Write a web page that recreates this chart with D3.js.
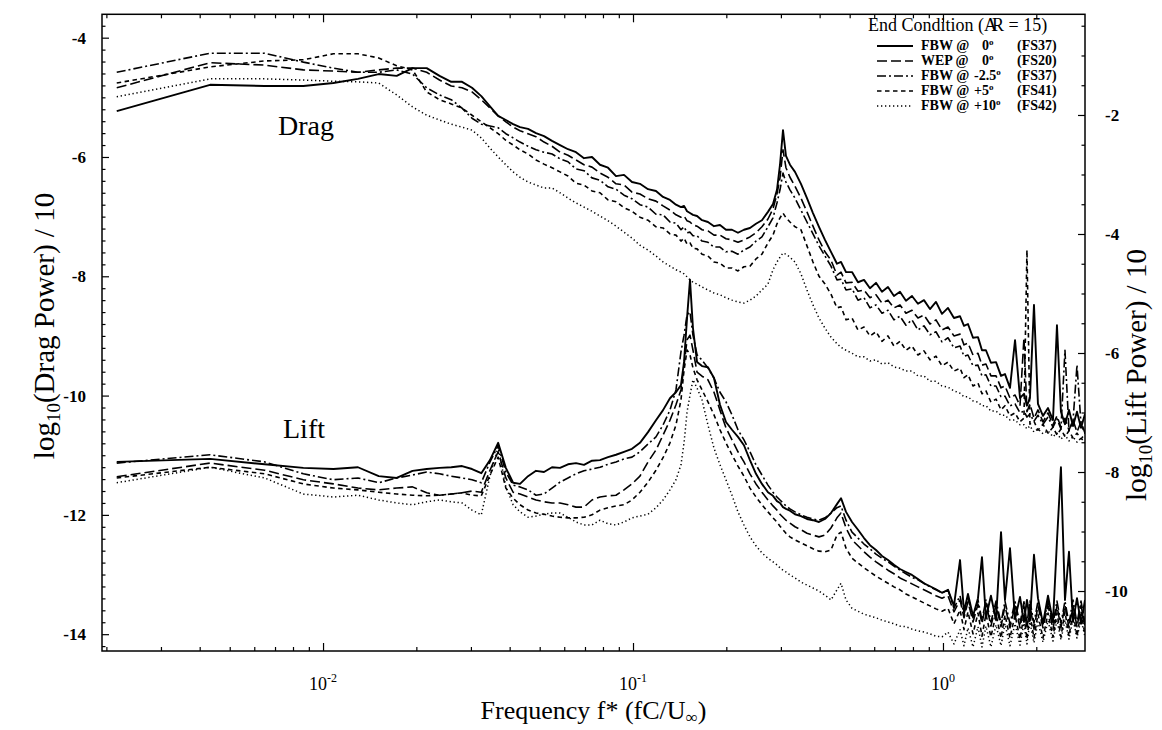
<!DOCTYPE html>
<html>
<head>
<meta charset="utf-8">
<script src="https://cdn.jsdelivr.net/npm/d3@7"></script>
<style>
  html, body { margin: 0; padding: 0; background: #fff; }
  svg { display: block; }
  text { font-family: "Liberation Serif", "Times New Roman", serif; fill: #000; }
</style>
</head>
<body>
<svg id="chart" width="1162" height="730"></svg>
<script>
// Non-dimensional frequency f* = fC/U∞ (shared by every spectrum)
const freq = [
  0.00216, 0.00432, 0.00648, 0.00864, 0.0108, 0.01296, 0.01512, 0.01728, 0.01944, 0.0216,
  0.02376, 0.02592, 0.02808, 0.03024, 0.0324, 0.03456, 0.03672, 0.03888, 0.04104, 0.0432,
  0.04585, 0.04865, 0.05163, 0.05479, 0.05814, 0.0617, 0.06548, 0.06948, 0.07374, 0.07825,
  0.08305, 0.08813, 0.09354, 0.09926, 0.1053, 0.1118, 0.1186, 0.125, 0.1316, 0.1376,
  0.1428, 0.1461, 0.1494, 0.1527, 0.1561, 0.1609, 0.167, 0.1745, 0.1825, 0.1908,
  0.1995, 0.2086, 0.2181, 0.228, 0.2384, 0.2493, 0.2606, 0.2725, 0.2829, 0.2914,
  0.298, 0.3047, 0.3115, 0.3209, 0.3331, 0.3482, 0.3641, 0.3807, 0.3981, 0.4162,
  0.4352, 0.455, 0.4688, 0.4866, 0.5088, 0.5319, 0.5562, 0.5814, 0.608, 0.6356,
  0.6646, 0.6948, 0.7265, 0.7596, 0.7943, 0.8304, 0.8683, 0.9079, 0.9493, 0.9926,
  1.038, 1.085, 1.135, 1.169, 1.204, 1.25, 1.297, 1.336, 1.376, 1.428,
  1.483, 1.539, 1.585, 1.645, 1.708, 1.772, 1.825, 1.866, 1.908, 1.966,
  2.025, 2.102, 2.182, 2.264, 2.332, 2.402, 2.475, 2.55, 2.627, 2.706,
  2.788, 2.872
];

// log10(Drag Power)/10  (left axis)
const dragFbw0 = [
  -5.23, -4.79, -4.81, -4.81, -4.76, -4.69, -4.61, -4.64, -4.51, -4.51,
  -4.64, -4.74, -4.74, -4.84, -4.98, -5.15, -5.31, -5.38, -5.45, -5.50,
  -5.53, -5.60, -5.65, -5.73, -5.80, -5.87, -5.92, -6.02, -6.00, -6.13,
  -6.18, -6.32, -6.30, -6.42, -6.45, -6.54, -6.57, -6.67, -6.72, -6.80,
  -6.84, -6.82, -6.91, -6.94, -6.97, -6.99, -7.06, -7.09, -7.16, -7.14,
  -7.22, -7.22, -7.27, -7.22, -7.19, -7.12, -7.06, -6.92, -6.79, -6.55,
  -6.13, -5.55, -5.98, -6.13, -6.25, -6.45, -6.69, -6.94, -7.17, -7.39,
  -7.59, -7.79, -7.76, -7.93, -7.93, -8.10, -8.06, -8.20, -8.11, -8.26,
  -8.18, -8.33, -8.26, -8.41, -8.33, -8.46, -8.40, -8.55, -8.43, -8.63,
  -8.53, -8.70, -8.67, -8.83, -8.80, -9.03, -9.02, -9.24, -9.24, -9.45,
  -9.44, -9.67, -9.64, -9.87, -9.07, -10.04, -9.97, -10.17, -10.04, -8.48,
  -10.14, -10.34, -10.21, -10.41, -8.82, -10.27, -10.48, -10.24, -10.51, -10.27,
  -10.54, -10.31
];
const dragWep0 = [
  -4.84, -4.42, -4.46, -4.54, -4.56, -4.58, -4.54, -4.51, -4.51, -4.58,
  -4.71, -4.81, -4.84, -4.91, -5.04, -5.18, -5.31, -5.41, -5.50, -5.56,
  -5.61, -5.66, -5.75, -5.82, -5.92, -5.97, -6.05, -6.13, -6.17, -6.27,
  -6.34, -6.45, -6.47, -6.59, -6.62, -6.70, -6.74, -6.82, -6.89, -6.97,
  -7.01, -6.99, -7.07, -7.09, -7.14, -7.16, -7.22, -7.24, -7.31, -7.31,
  -7.37, -7.39, -7.43, -7.39, -7.34, -7.27, -7.17, -7.04, -6.87, -6.62,
  -6.35, -5.88, -6.18, -6.34, -6.49, -6.69, -6.92, -7.16, -7.39, -7.59,
  -7.73, -7.98, -7.93, -8.11, -8.10, -8.25, -8.23, -8.36, -8.31, -8.45,
  -8.40, -8.53, -8.48, -8.62, -8.57, -8.70, -8.65, -8.80, -8.73, -8.90,
  -8.85, -9.00, -8.97, -9.15, -9.12, -9.32, -9.29, -9.49, -9.47, -9.67,
  -9.67, -9.87, -9.84, -10.04, -9.99, -10.17, -9.03, -10.27, -10.14, -10.38,
  -10.24, -10.44, -10.29, -10.49, -10.34, -10.53, -10.38, -10.58, -10.41, -10.61,
  -10.44, -10.63
];
const dragFbwM25 = [
  -4.58, -4.26, -4.26, -4.41, -4.51, -4.58, -4.58, -4.54, -4.61, -4.84,
  -4.96, -5.04, -5.18, -5.35, -5.45, -5.48, -5.51, -5.61, -5.68, -5.75,
  -5.82, -5.88, -5.92, -5.95, -6.03, -6.08, -6.20, -6.23, -6.35, -6.39,
  -6.50, -6.54, -6.64, -6.70, -6.80, -6.84, -6.96, -6.97, -7.09, -7.11,
  -7.22, -7.17, -7.27, -7.26, -7.32, -7.32, -7.41, -7.43, -7.51, -7.51,
  -7.59, -7.58, -7.63, -7.56, -7.51, -7.41, -7.34, -7.17, -7.02, -6.77,
  -6.55, -6.27, -6.42, -6.55, -6.69, -6.89, -7.09, -7.29, -7.49, -7.66,
  -7.83, -8.06, -8.05, -8.23, -8.21, -8.40, -8.36, -8.53, -8.48, -8.62,
  -8.57, -8.73, -8.67, -8.82, -8.73, -8.90, -8.83, -8.98, -8.93, -9.10,
  -9.03, -9.20, -9.17, -9.34, -9.32, -9.50, -9.49, -9.67, -9.65, -9.84,
  -9.84, -10.02, -10.01, -10.17, -10.14, -10.29, -10.26, -10.36, -10.31, -10.43,
  -10.33, -10.48, -10.36, -10.53, -10.39, -10.56, -9.24, -10.59, -10.43, -9.49,
  -10.48, -10.64
];
const dragFbwP5 = [
  -4.76, -4.49, -4.39, -4.37, -4.27, -4.27, -4.34, -4.47, -4.54, -4.91,
  -5.04, -5.11, -5.18, -5.30, -5.41, -5.51, -5.61, -5.72, -5.80, -5.88,
  -5.95, -6.05, -6.12, -6.18, -6.25, -6.32, -6.44, -6.47, -6.57, -6.60,
  -6.72, -6.75, -6.85, -6.91, -7.01, -7.06, -7.17, -7.19, -7.29, -7.31,
  -7.41, -7.36, -7.46, -7.44, -7.53, -7.54, -7.63, -7.66, -7.76, -7.78,
  -7.86, -7.86, -7.91, -7.84, -7.83, -7.71, -7.63, -7.44, -7.31, -7.12,
  -7.02, -6.94, -7.02, -7.09, -7.17, -7.22, -7.49, -7.76, -8.00, -8.13,
  -8.30, -8.53, -8.51, -8.73, -8.70, -8.90, -8.85, -9.00, -8.93, -9.09,
  -9.00, -9.17, -9.09, -9.24, -9.17, -9.32, -9.25, -9.40, -9.34, -9.50,
  -9.44, -9.59, -9.54, -9.70, -9.65, -9.84, -9.79, -9.97, -9.92, -10.11,
  -10.06, -10.24, -10.17, -10.34, -10.29, -10.44, -10.38, -7.56, -10.48, -10.43,
  -10.58, -10.48, -10.63, -10.53, -10.66, -10.56, -10.69, -10.59, -10.71, -10.63,
  -10.73, -10.64
];
const dragFbwP10 = [
  -4.99, -4.69, -4.69, -4.71, -4.73, -4.74, -4.76, -4.96, -5.16, -5.30,
  -5.38, -5.45, -5.50, -5.55, -5.68, -5.85, -6.00, -6.13, -6.25, -6.34,
  -6.42, -6.47, -6.52, -6.52, -6.60, -6.69, -6.77, -6.84, -6.91, -6.99,
  -7.07, -7.16, -7.26, -7.36, -7.48, -7.56, -7.66, -7.76, -7.83, -7.89,
  -7.93, -7.96, -8.01, -8.06, -8.10, -8.13, -8.18, -8.23, -8.28, -8.31,
  -8.36, -8.40, -8.43, -8.45, -8.40, -8.33, -8.23, -8.13, -7.89, -7.76,
  -7.68, -7.61, -7.63, -7.68, -7.76, -7.96, -8.23, -8.48, -8.70, -8.87,
  -9.02, -9.13, -9.19, -9.24, -9.29, -9.35, -9.35, -9.42, -9.40, -9.47,
  -9.45, -9.52, -9.54, -9.59, -9.59, -9.67, -9.67, -9.76, -9.76, -9.84,
  -9.86, -9.92, -9.96, -10.02, -10.02, -10.09, -10.11, -10.17, -10.17, -10.26,
  -10.26, -10.33, -10.33, -10.41, -10.41, -10.49, -10.49, -10.56, -10.51, -10.61,
  -10.56, -10.64, -10.59, -10.69, -10.63, -10.73, -10.66, -10.76, -10.69, -10.78,
  -10.71, -10.79
];

// log10(Lift Power)/10  (right axis)
const liftFbw0 = [
  -7.83, -7.78, -7.87, -7.93, -7.95, -7.92, -8.07, -8.10, -7.98, -7.95,
  -7.93, -7.92, -7.90, -7.95, -8.02, -7.80, -7.51, -7.93, -8.18, -8.20,
  -8.07, -7.98, -8.00, -7.92, -7.93, -7.87, -7.85, -7.88, -7.81, -7.80,
  -7.75, -7.71, -7.66, -7.61, -7.51, -7.33, -7.13, -6.96, -6.76, -6.66,
  -6.54, -6.15, -5.41, -4.77, -5.58, -6.15, -6.22, -6.24, -6.42, -6.87,
  -7.16, -7.29, -7.41, -7.55, -7.80, -8.03, -8.20, -8.34, -8.40, -8.49,
  -8.52, -8.59, -8.62, -8.65, -8.71, -8.74, -8.79, -8.81, -8.84, -8.79,
  -8.69, -8.54, -8.44, -8.67, -8.84, -8.97, -9.11, -9.23, -9.31, -9.41,
  -9.48, -9.56, -9.63, -9.68, -9.73, -9.80, -9.87, -9.92, -9.97, -10.03,
  -9.98, -10.25, -9.48, -10.35, -10.05, -10.42, -10.12, -9.43, -10.45, -10.08,
  -10.49, -9.01, -10.15, -9.28, -10.47, -10.10, -10.52, -10.15, -10.50, -9.39,
  -10.12, -10.55, -10.08, -10.52, -9.16, -7.92, -10.15, -9.34, -10.52, -10.12,
  -10.55, -10.15
];
const liftWep0 = [
  -8.08, -7.85, -7.97, -8.13, -8.20, -8.27, -8.30, -8.27, -8.25, -8.35,
  -8.39, -8.37, -8.35, -8.32, -8.34, -7.97, -7.66, -8.10, -8.34, -8.37,
  -8.42, -8.47, -8.50, -8.52, -8.52, -8.55, -8.59, -8.59, -8.47, -8.42,
  -8.40, -8.39, -8.30, -8.20, -8.07, -7.83, -7.63, -7.38, -7.13, -6.87,
  -6.62, -6.20, -5.78, -5.70, -5.95, -6.32, -6.39, -6.45, -6.66, -6.96,
  -7.26, -7.46, -7.66, -7.83, -8.03, -8.20, -8.34, -8.47, -8.57, -8.64,
  -8.71, -8.76, -8.81, -8.86, -8.92, -8.97, -9.03, -9.06, -9.09, -9.06,
  -8.94, -8.77, -8.69, -8.94, -9.14, -9.24, -9.34, -9.43, -9.51, -9.58,
  -9.65, -9.71, -9.78, -9.83, -9.88, -9.93, -9.98, -10.03, -10.08, -10.12,
  -10.08, -10.35, -10.15, -10.45, -10.18, -10.52, -10.22, -10.55, -10.20, -10.59,
  -10.24, -10.60, -10.25, -10.62, -10.24, -10.62, -10.25, -10.64, -10.24, -10.64,
  -10.25, -10.62, -10.24, -10.64, -10.25, -10.62, -10.24, -10.62, -10.25, -10.60,
  -10.24, -10.59
];
const liftFbwM25 = [
  -7.85, -7.71, -7.83, -8.03, -8.13, -8.10, -8.18, -8.10, -8.05, -8.00,
  -8.03, -8.07, -8.10, -8.13, -8.18, -7.83, -7.56, -8.00, -8.22, -8.25,
  -8.30, -8.39, -8.37, -8.27, -8.17, -8.10, -8.03, -7.98, -7.95, -7.92,
  -7.87, -7.83, -7.78, -7.75, -7.66, -7.53, -7.41, -7.21, -6.96, -6.62,
  -5.98, -5.70, -5.36, -5.31, -5.70, -6.03, -6.12, -6.25, -6.42, -6.66,
  -6.82, -7.04, -7.29, -7.46, -7.66, -7.88, -8.05, -8.22, -8.34, -8.42,
  -8.47, -8.52, -8.57, -8.62, -8.67, -8.72, -8.76, -8.79, -8.81, -8.77,
  -8.69, -8.60, -8.57, -8.81, -9.01, -9.11, -9.21, -9.29, -9.38, -9.45,
  -9.51, -9.58, -9.65, -9.71, -9.77, -9.81, -9.87, -9.93, -9.98, -10.03,
  -9.98, -10.29, -10.08, -10.39, -10.12, -10.45, -10.15, -10.49, -10.15, -10.52,
  -10.17, -10.54, -10.17, -10.55, -10.18, -10.55, -10.18, -10.55, -10.17, -10.54,
  -10.17, -10.55, -10.18, -10.55, -10.17, -10.54, -10.17, -10.55, -10.15, -10.54,
  -10.17, -10.55
];
const liftFbwP5 = [
  -8.10, -7.92, -8.03, -8.20, -8.27, -8.30, -8.34, -8.37, -8.39, -8.40,
  -8.39, -8.37, -8.35, -8.39, -8.40, -8.05, -7.75, -8.27, -8.44, -8.55,
  -8.64, -8.69, -8.71, -8.74, -8.76, -8.77, -8.77, -8.76, -8.72, -8.64,
  -8.60, -8.57, -8.55, -8.47, -8.34, -8.17, -7.97, -7.76, -7.51, -7.21,
  -6.79, -6.29, -5.95, -6.03, -6.25, -6.45, -6.62, -6.82, -7.04, -7.29,
  -7.51, -7.71, -7.90, -8.07, -8.27, -8.42, -8.55, -8.67, -8.77, -8.84,
  -8.91, -8.97, -9.03, -9.09, -9.14, -9.19, -9.24, -9.29, -9.33, -9.34,
  -9.31, -9.06, -9.01, -9.28, -9.45, -9.53, -9.61, -9.68, -9.75, -9.81,
  -9.87, -9.93, -9.98, -10.05, -10.10, -10.15, -10.20, -10.25, -10.30, -10.34,
  -10.29, -10.55, -10.32, -10.65, -10.35, -10.72, -10.37, -10.76, -10.39, -10.77,
  -10.39, -10.79, -10.40, -10.79, -10.40, -10.81, -10.40, -10.81, -10.39, -10.79,
  -10.39, -10.79, -10.37, -10.77, -10.37, -10.77, -10.35, -10.76, -10.35, -10.76,
  -10.34, -10.74
];
const liftFbwP10 = [
  -8.18, -7.92, -8.10, -8.37, -8.42, -8.39, -8.47, -8.52, -8.55, -8.50,
  -8.47, -8.50, -8.52, -8.64, -8.72, -8.07, -7.58, -8.25, -8.55, -8.67,
  -8.76, -8.74, -8.71, -8.69, -8.69, -8.76, -8.84, -8.89, -8.89, -8.81,
  -8.87, -8.89, -8.84, -8.77, -8.74, -8.71, -8.60, -8.47, -8.30, -8.13,
  -7.88, -7.51, -6.99, -6.71, -6.45, -6.59, -6.79, -7.21, -7.60, -7.88,
  -8.13, -8.39, -8.67, -8.89, -9.09, -9.24, -9.36, -9.45, -9.51, -9.56,
  -9.61, -9.65, -9.68, -9.73, -9.78, -9.85, -9.90, -9.95, -10.00, -10.07,
  -10.15, -9.98, -9.87, -10.15, -10.29, -10.34, -10.39, -10.42, -10.45, -10.49,
  -10.52, -10.55, -10.59, -10.60, -10.64, -10.67, -10.69, -10.72, -10.76, -10.77,
  -10.69, -10.89, -10.65, -10.92, -10.62, -10.94, -10.60, -10.94, -10.59, -10.94,
  -10.57, -10.92, -10.55, -10.92, -10.55, -10.91, -10.54, -10.89, -10.52, -10.87,
  -10.52, -10.86, -10.50, -10.84, -10.49, -10.82, -10.49, -10.81, -10.47, -10.79,
  -10.47, -10.77
];

// Legend entries (end condition, angle, run)
const caseNames = ["FBW @", "WEP @", "FBW @", "FBW @", "FBW @"];
const caseAngles = ["0", "0", "-2.5", "+5", "+10"];
const caseRuns = ["(FS37)", "(FS20)", "(FS37)", "(FS41)", "(FS42)"];

// Axis ticks
const dragTicks = [-4, -6, -8, -10, -12, -14];
const liftTicks = [-2, -4, -6, -8, -10];
const freqTicks = [0.01, 0.1, 1];
const freqTickExponents = ["-2", "-1", "0"];

// ---------------------------------------------------------------
const dragSeries = [dragFbw0, dragWep0, dragFbwM25, dragFbwP5, dragFbwP10];
const liftSeries = [liftFbw0, liftWep0, liftFbwM25, liftFbwP5, liftFbwP10];

// line style for each case: solid, long dash, dash-dot, short dash, dotted
const lineStyles = [
  { dash: null,      width: 1.9 },
  { dash: "10,4",    width: 1.6 },
  { dash: "9,3,2,3", width: 1.6 },
  { dash: "4.5,3.5", width: 1.6 },
  { dash: "1.3,2.7", width: 1.5 }
];

const serif = '"Liberation Serif", "Times New Roman", serif';
const svg = d3.select("#chart");
const plot = { left: 102, right: 1085, top: 14.3, bottom: 651 };

svg.append("rect").attr("width", 1162).attr("height", 730).attr("fill", "#fff");

const x = d3.scaleLog().domain([0.001936, 2.872]).range([plot.left, plot.right]);
const yDrag = d3.scaleLinear().domain([-14.282, -3.608]).range([plot.bottom, plot.top]);
const yLift = d3.scaleLinear().domain([-11.008, -0.308]).range([plot.bottom, plot.top]);

svg.append("defs").append("clipPath").attr("id", "plotClip")
  .append("rect")
  .attr("x", plot.left).attr("y", plot.top)
  .attr("width", plot.right - plot.left).attr("height", plot.bottom - plot.top);

// ---- spectra
const curves = svg.append("g").attr("clip-path", "url(#plotClip)");
function drawSpectra(series, yScale) {
  const line = d3.line()
    .x((d, i) => x(freq[i]))
    .y(d => yScale(d));
  for (let k = series.length - 1; k >= 0; k--) {
    curves.append("path")
      .datum(series[k])
      .attr("d", line)
      .attr("fill", "none")
      .attr("stroke", "#000")
      .attr("stroke-width", lineStyles[k].width)
      .attr("stroke-dasharray", lineStyles[k].dash)
      .attr("stroke-linejoin", "round");
  }
}
drawSpectra(dragSeries, yDrag);
drawSpectra(liftSeries, yLift);

// ---- frame
svg.append("rect")
  .attr("x", plot.left).attr("y", plot.top)
  .attr("width", plot.right - plot.left).attr("height", plot.bottom - plot.top)
  .attr("fill", "none").attr("stroke", "#000").attr("stroke-width", 1.5);

function styleAxis(g, size, weight) {
  g.attr("font-family", serif).attr("font-size", size).attr("font-weight", weight);
  g.select(".domain").remove();
  g.selectAll(".tick line").attr("stroke-width", 1.2);
}

// left axis (drag)
const minorDrag = d3.range(-3.8, -14.21, -0.2).filter(v => Math.abs(v / 2 - Math.round(v / 2)) > 0.01);
svg.append("g").attr("transform", `translate(${plot.left},0)`)
  .call(d3.axisLeft(yDrag).tickValues(minorDrag).tickSize(-3.5).tickFormat(""))
  .call(g => styleAxis(g, 17, "bold"));
svg.append("g").attr("transform", `translate(${plot.left},0)`)
  .call(d3.axisLeft(yDrag).tickValues(dragTicks).tickSize(-7).tickPadding(16).tickFormat(d => String(d)))
  .call(g => styleAxis(g, 17, "bold"));

// right axis (lift)
const minorLift = d3.range(-0.5, -11.0, -0.5).filter(v => Math.abs(v / 2 - Math.round(v / 2)) > 0.01);
svg.append("g").attr("transform", `translate(${plot.right},0)`)
  .call(d3.axisRight(yLift).tickValues(minorLift).tickSize(-3.5).tickFormat(""))
  .call(g => styleAxis(g, 17, "bold"));
svg.append("g").attr("transform", `translate(${plot.right},0)`)
  .call(d3.axisRight(yLift).tickValues(liftTicks).tickSize(-7).tickPadding(20).tickFormat(d => String(d)))
  .call(g => styleAxis(g, 17, "bold"));

// bottom and top axes (frequency)
const minorFreq = [];
[0.001, 0.01, 0.1, 1].forEach(dec => {
  for (let m = 2; m <= 9; m++) {
    const v = dec * m;
    if (v > x.domain()[0] && v < x.domain()[1]) minorFreq.push(v);
  }
});
[[plot.bottom, d3.axisBottom], [plot.top, d3.axisTop]].forEach(([yPos, axisFn]) => {
  svg.append("g").attr("transform", `translate(0,${yPos})`)
    .call(axisFn(x).tickValues(minorFreq).tickSize(-4).tickFormat(""))
    .call(g => styleAxis(g, 17, "normal"));
  svg.append("g").attr("transform", `translate(0,${yPos})`)
    .call(axisFn(x).tickValues(freqTicks).tickSize(-8).tickFormat(""))
    .call(g => styleAxis(g, 17, "normal"));
});

// decade labels 10^n
const xl = svg.append("g").attr("font-family", serif);
freqTicks.forEach((v, i) => {
  const t = xl.append("text")
    .attr("x", x(v)).attr("y", 690)
    .attr("text-anchor", "middle")
    .attr("font-size", 18);
  t.append("tspan").text("10");
  t.append("tspan").attr("dy", -8).attr("font-size", 12).text(freqTickExponents[i]);
});

// axis titles
const xt = svg.append("text")
  .attr("x", (plot.left + plot.right) / 2).attr("y", 719)
  .attr("text-anchor", "middle").attr("font-size", 26).attr("font-family", serif);
xt.append("tspan").text("Frequency f* (fC/U");
xt.append("tspan").attr("dy", 4).attr("font-size", 17).text("\u221E");
xt.append("tspan").attr("dy", -4).text(")");

function verticalTitle(cx, cy, name) {
  const t = svg.append("text")
    .attr("transform", `translate(${cx},${cy}) rotate(-90)`)
    .attr("text-anchor", "middle").attr("font-size", 29).attr("font-family", serif);
  t.append("tspan").text("log");
  t.append("tspan").attr("dy", 6).attr("font-size", 19).text("10");
  t.append("tspan").attr("dy", -6).text(`(${name} Power) / 10`);
}
verticalTitle(54, 326, "Drag");
verticalTitle(1146, 375, "Lift");

// group labels
svg.append("text").attr("x", 278).attr("y", 135).attr("font-size", 28)
  .attr("font-family", serif).text("Drag");
svg.append("text").attr("x", 283).attr("y", 438).attr("font-size", 28)
  .attr("font-family", serif).text("Lift");

// ---- legend
const lg = svg.append("g").attr("font-family", serif);
const title = lg.append("text").attr("x", 868).attr("y", 31).attr("font-size", 18);
title.append("tspan").text("End Condition (A");
title.append("tspan").attr("dx", -5).text("R = 15)");

const rowY = [50, 65, 80, 95, 110];
caseNames.forEach((name, i) => {
  const y = rowY[i];
  lg.append("line")
    .attr("x1", 877).attr("x2", 913)
    .attr("y1", y - 4).attr("y2", y - 4)
    .attr("stroke", "#000")
    .attr("stroke-width", lineStyles[i].width)
    .attr("stroke-dasharray", lineStyles[i].dash);
  lg.append("text").attr("x", 921).attr("y", y)
    .attr("font-size", 14).attr("font-weight", "bold").text(name);
  const ang = lg.append("text")
    .attr("x", caseAngles[i] === "0" ? 982 : 974).attr("y", y)
    .attr("font-size", 14).attr("font-weight", "bold");
  ang.append("tspan").text(caseAngles[i]);
  ang.append("tspan").attr("dy", -5).attr("font-size", 9).text("o");
  lg.append("text").attr("x", 1017).attr("y", y)
    .attr("font-size", 14).attr("font-weight", "bold").text(caseRuns[i]);
});
</script>
</body>
</html>
